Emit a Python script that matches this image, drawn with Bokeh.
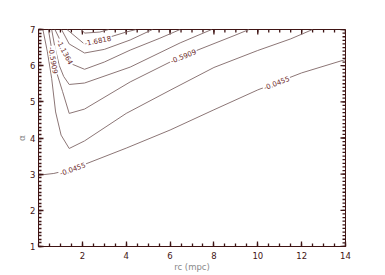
import numpy as np
from bokeh.plotting import figure
from bokeh.models import Range1d, FixedTicker, Label
from bokeh.embed import file_html
from bokeh.resources import INLINE

# ---- data ----
levels = [-0.0455, -0.3182, -0.5909, -0.8636, -1.1364, -1.4091, -1.6818, -1.9545]

L1_x = [0, 0.7, 1.4, 2.1, 4, 6, 8, 10, 12, 14]
L1_y = [2.97, 3.02, 3.12, 3.27, 3.72, 4.22, 4.78, 5.33, 5.8, 6.17]

L2_x = [0.2, 0.4, 0.6, 0.78, 1.03, 1.4, 2.1, 4, 6, 8, 10, 11.5, 12.5]
L2_y = [7.0, 6.4, 5.65, 4.72, 4.08, 3.71, 3.92, 4.68, 5.32, 5.95, 6.42, 6.74, 7.0]

L3_x = [0.45, 0.57, 0.72, 1.1, 1.4, 2.1, 4.18, 6.46, 8.96, 9.6]
L3_y = [7.0, 6.57, 6.02, 5.28, 4.68, 4.8, 5.55, 6.24, 6.84, 7.0]

L4_x = [0.6, 0.75, 0.95, 1.15, 1.4, 2.1, 4.18, 6.46, 7.9]
L4_y = [7.0, 6.5, 6.0, 5.7, 5.48, 5.52, 5.96, 6.63, 7.0]

L5_x = [0.75, 0.95, 1.2, 1.5, 2.1, 3.0, 4.18, 5.5, 6.46]
L5_y = [7.0, 6.75, 6.4, 6.05, 5.9, 6.1, 6.43, 6.75, 7.0]

L6_x = [1.05, 1.4, 2.1, 3.0, 4.18, 5.2]
L6_y = [7.0, 6.6, 6.35, 6.45, 6.71, 7.0]

L7_x = [1.3, 2.05, 2.7, 3.3, 4.0, 4.45]
L7_y = [7.0, 6.62, 6.7, 6.8, 6.93, 7.0]

L8_x = [1.97, 2.1, 2.8, 3.2]
L8_y = [7.0, 6.9, 6.93, 7.0]

lines_x = [L1_x, L2_x, L3_x, L4_x, L5_x, L6_x, L7_x, L8_x]
lines_y = [L1_y, L2_y, L3_y, L4_y, L5_y, L6_y, L7_y, L8_y]

# contour labels: (line index, x, y)
lab_line = [0, 0, 2, 2, 4, 6]
lab_x = [1.55, 10.85, 0.69, 6.6, 1.22, 2.7]
lab_y = [3.15, 5.53, 6.15, 6.27, 6.38, 6.7]

x_ticks = [2, 4, 6, 8, 10, 12, 14]
y_ticks = [1, 2, 3, 4, 5, 6, 7]
x_minor = [float(round(v, 2)) for v in np.arange(0, 14.01, 0.5)]
y_minor = [float(round(v, 2)) for v in np.arange(1, 7.001, 0.1)]

X0, X1, Y0, Y1 = 0, 14, 1, 7
FW, FH = 307, 217
MAJ, MIN = 5, 3  # tick lengths (px)
TW = 1.3         # tick line width

AX = "#3f1414"
LC = "#8c7676"
TC = "#6e2c2c"
GRAY = "#8a8a8a"
FONT = "DejaVu Sans"

p = figure(frame_width=FW, frame_height=FH,
           x_range=Range1d(X0, X1), y_range=Range1d(Y0, Y1),
           output_backend="svg", toolbar_location=None,
           min_border_left=38, min_border_right=32,
           min_border_top=29, min_border_bottom=28)
p.grid.visible = False
p.outline_line_color = AX
p.background_fill_color = "white"
p.border_fill_color = "white"

xa = p.below[0]
ya = p.left[0]
xa.ticker = FixedTicker(ticks=x_ticks, minor_ticks=x_minor)
ya.ticker = FixedTicker(ticks=y_ticks, minor_ticks=y_minor)

for ax in (xa, ya):
    ax.axis_line_color = AX
    ax.major_tick_line_color = AX
    ax.minor_tick_line_color = AX
    ax.major_tick_line_width = TW
    ax.minor_tick_line_width = TW
    ax.major_tick_in = MAJ
    ax.major_tick_out = 0
    ax.minor_tick_in = MIN
    ax.minor_tick_out = 0
    ax.major_label_text_color = AX
    ax.major_label_text_font = FONT
    ax.major_label_text_font_size = "8.5px"
    ax.axis_label_text_color = GRAY
    ax.axis_label_text_font = FONT
    ax.axis_label_text_font_style = "normal"

xa.major_label_standoff = 5
ya.major_label_standoff = 3

ya.axis_label = "α"
ya.axis_label_text_font_size = "9px"
ya.axis_label_standoff = 0

xa.axis_label = "rc (mpc)"
xa.axis_label_text_font_size = "8.5px"
xa.axis_label_standoff = 0

sx = FW / (X1 - X0)
sy = FH / (Y1 - Y0)

# inward tick marks on the top and right sides of the box, as thin filled bars
for ticks, L in ((x_ticks, MAJ), (x_minor, MIN)):
    p.rect(x=ticks, y=[Y1 - (L / 2) / sy] * len(ticks), width=TW, height=L,
           width_units="screen", height_units="screen",
           fill_color=AX, line_color=None)
for ticks, L in ((y_ticks, MAJ), (y_minor, MIN)):
    p.rect(x=[X1 - (L / 2) / sx] * len(ticks), y=ticks, width=L, height=TW,
           width_units="screen", height_units="screen",
           fill_color=AX, line_color=None)

# contour lines
p.multi_line(xs=lines_x, ys=lines_y, line_color=LC, line_width=1)

# contour labels
def seg_angle(xs, ys, x, y):
    xs = np.asarray(xs, float) * sx
    ys = np.asarray(ys, float) * sy
    P = np.array([x * sx, y * sy])
    best, ang = 1e9, 0.0
    for i in range(len(xs) - 1):
        A = np.array([xs[i], ys[i]])
        B = np.array([xs[i + 1], ys[i + 1]])
        d = B - A
        t = np.clip(np.dot(P - A, d) / max(np.dot(d, d), 1e-9), 0, 1)
        dist = np.linalg.norm(A + t * d - P)
        if dist < best:
            best = dist
            ang = np.arctan2(d[1], d[0])
    return float(ang)

for li, lx, ly in zip(lab_line, lab_x, lab_y):
    ang = seg_angle(lines_x[li], lines_y[li], lx, ly)
    p.add_layout(Label(x=lx, y=ly, text=f"{levels[li]:.4f}", angle=ang,
                       text_align="center", text_baseline="middle",
                       text_font=FONT, text_font_size="7px", text_color=TC,
                       background_fill_color="white", padding=1))

open("out.html", "w").write(file_html(p, INLINE))
